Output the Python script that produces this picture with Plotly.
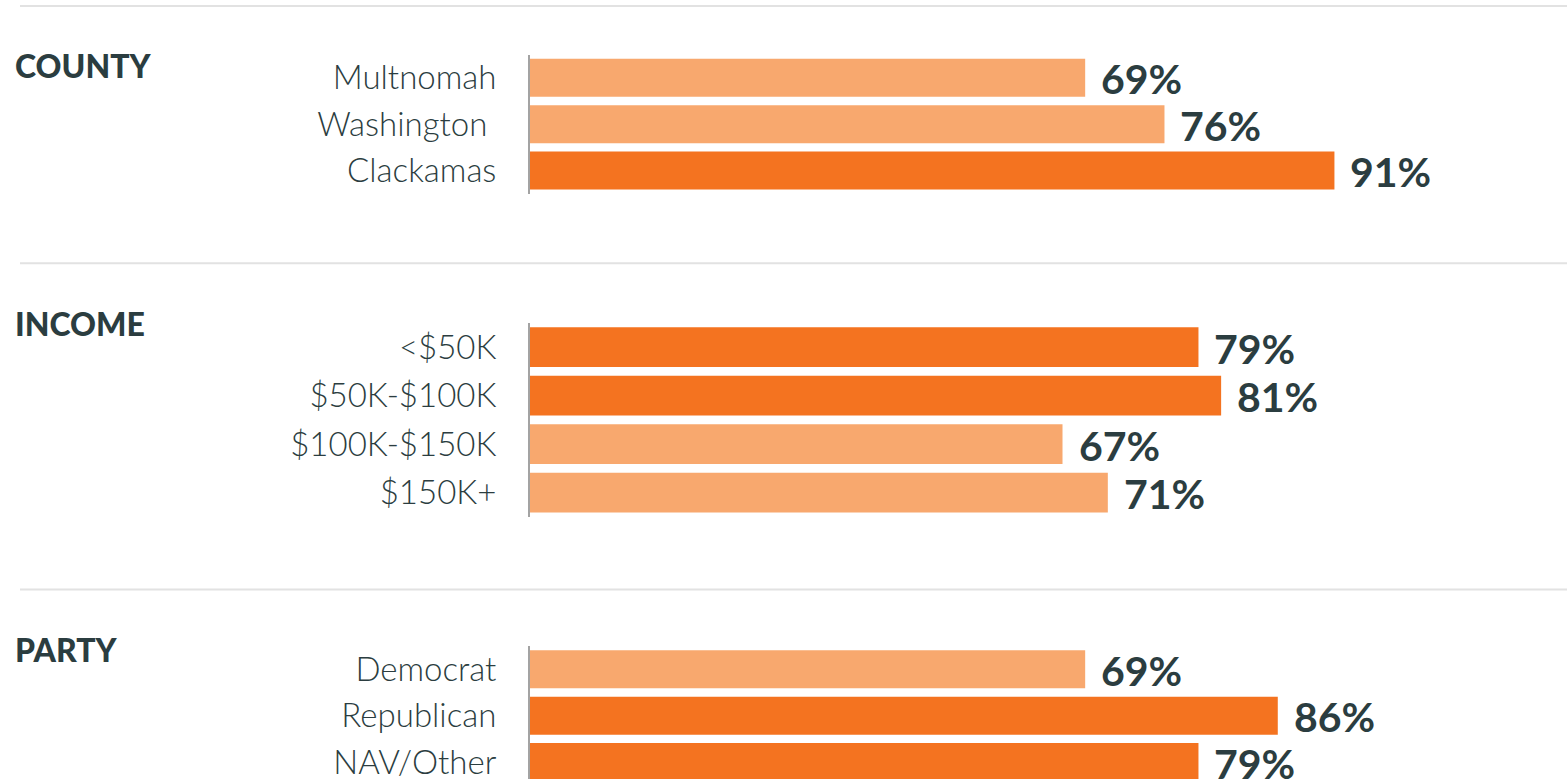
import plotly.graph_objects as go

# Data
county_labels = ["Multnomah", "Washington ", "Clackamas"]
county_values = [69, 76, 91]
county_highlight = [False, False, True]

income_labels = ["<$50K", "$50K-$100K", "$100K-$150K", "$150K+"]
income_values = [79, 81, 67, 71]
income_highlight = [True, True, False, False]

party_labels = ["Democrat", "Republican", "NAV/Other"]
party_values = [69, 86, 79]
party_highlight = [False, True, True]

section_titles = ["COUNTY", "INCOME", "PARTY"]

W, H = 1567, 781
DARK = "#F47320"
LIGHT = "#F8A86E"
TEXT = "#2B3D40"
FONT = "Lato"

sections = [
    (county_labels, county_values, county_highlight),
    (income_labels, income_values, income_highlight),
    (party_labels, party_values, party_highlight),
]
# pixel layout of each block: (slot top, slot bottom, heading centre, divider y)
blocks = [(54.75, 194.25, 66, 6), (323.7, 518.3, 324, 264), (647.75, 787.25, 651, 591)]


def py(px):
    return 1 - px / H


def pxx(px):
    return px / W


fig = go.Figure()
shapes, annotations = [], []
x_left = pxx(530)
# 0 % sits at x=304, 11.33 px per percent
x_max = 20 + (W - 530) / 11.33

for i, ((labels, values, hl), (top, bot, head_y, div_y)) in enumerate(zip(sections, blocks)):
    n = len(labels)
    ax = "" if i == 0 else str(i + 1)
    pitch = (bot - top) / n
    vis_bot = min(bot, H)
    y_lo = n - 0.5 - (bot - vis_bot) / pitch

    fig.add_trace(go.Bar(
        x=values, y=labels, orientation="h",
        marker=dict(color=[DARK if h else LIGHT for h in hl], line=dict(width=0)),
        xaxis="x" + ax, yaxis="y" + ax,
        hoverinfo="skip", showlegend=False,
    ))
    for lab, v in zip(labels, values):
        annotations.append(dict(
            x=v, y=lab, xref="x" + ax, yref="y" + ax,
            text=f"<b>{v}%</b>", showarrow=False,
            xanchor="left", yanchor="middle", xshift=14, yshift=-1,
            font=dict(family=FONT, size=41, color=TEXT, weight=900),
        ))
    annotations.append(dict(
        x=pxx(13), y=py(head_y), xref="paper", yref="paper",
        text=section_titles[i], showarrow=False,
        xanchor="left", yanchor="middle",
        font=dict(family=FONT, size=32, color=TEXT, weight=900),
    ))
    shapes.append(dict(
        type="line", xref="paper", yref="paper",
        x0=pxx(20), x1=1, y0=py(div_y), y1=py(div_y),
        line=dict(color="#E2E2E2", width=2),
    ))
    fig.layout["xaxis" + (str(i + 1) if i else "")] = dict(
        domain=[x_left, 1], range=[20, x_max], visible=False,
        anchor="y" + ax, fixedrange=True,
    )
    fig.layout["yaxis" + (str(i + 1) if i else "")] = dict(
        domain=[max(py(vis_bot), 0), py(top)], range=[y_lo, -0.5],
        anchor="x" + ax, showline=True, linecolor="#A3A3A3", linewidth=2,
        showgrid=False, zeroline=False, ticks="", ticklabelstandoff=25,
        tickfont=dict(family=FONT, size=33, color=TEXT, weight=300),
        fixedrange=True,
    )

fig.update_layout(
    width=W, height=H,
    margin=dict(l=0, r=0, t=0, b=0),
    paper_bgcolor="white", plot_bgcolor="white",
    bargap=0.18,
    shapes=shapes, annotations=annotations,
)

# drop the browser's default body margin so the figure sits in the corner
fig.write_html(
    "out.html",
    config={"displayModeBar": False},
    post_script="document.body.style.margin='0';",
)
